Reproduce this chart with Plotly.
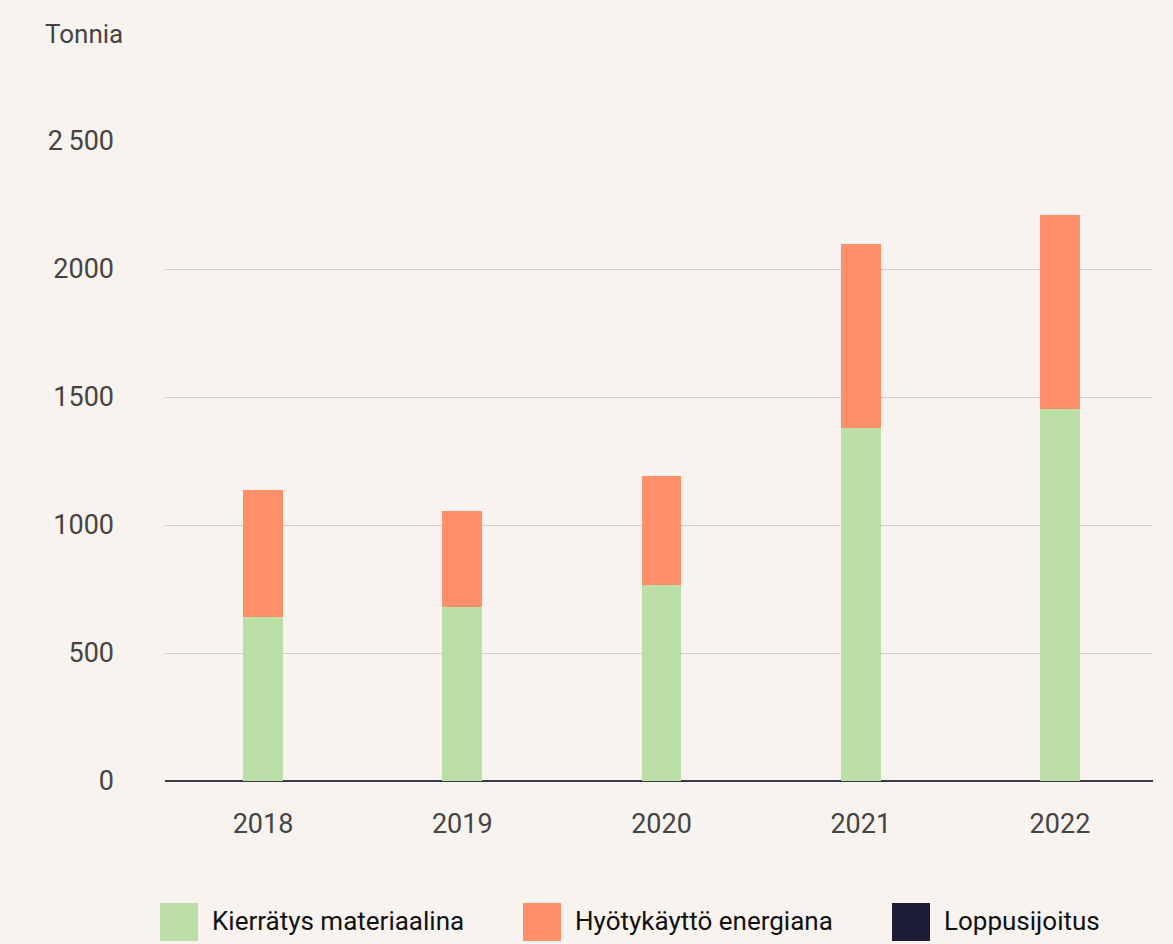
import plotly.graph_objects as go

years = ["2018", "2019", "2020", "2021", "2022"]
kierratys = [640, 680, 766, 1380, 1453]
hyotykaytto = [497, 375, 426, 719, 758]
loppusijoitus = [0, 0, 0, 0, 0]
series_names = ["Kierrätys materiaalina", "Hyötykäyttö energiana", "Loppusijoitus"]
series_colors = ["#BBDFA6", "#FF8F69", "#1C1D35"]
y_tickvals = [0, 500, 1000, 1500, 2000, 2500]
y_ticktext = ["0", "500", "1000", "1500", "2000", "2\u2009500"]

FONT = "Roboto, sans-serif"
BG = "#F8F3EF"

fig = go.Figure()
for name, vals, col in zip(series_names, [kierratys, hyotykaytto, loppusijoitus], series_colors):
    fig.add_trace(go.Bar(x=years, y=vals, name=name, marker=dict(color=col, line=dict(width=0)),
                         width=0.2, showlegend=False))

fig.update_layout(
    barmode="stack",
    width=1173, height=944,
    paper_bgcolor=BG, plot_bgcolor=BG,
    margin=dict(l=165, r=20, t=141, b=163),
    font=dict(family=FONT, color="#444444", size=27),
    xaxis=dict(showgrid=False, ticks="", ticklabelstandoff=24, showline=False,
               range=[-0.492, 4.467],
               tickfont=dict(size=27, color="#444444")),
    yaxis=dict(range=[0, 2500], tickvals=y_tickvals, ticktext=y_ticktext,
               showgrid=True, gridcolor="#D2CFCC", gridwidth=1,
               zeroline=True, zerolinecolor="#3A3A48", zerolinewidth=1.5,
               ticks="", ticklabelstandoff=50, tickfont=dict(size=27, color="#444444")),
    bargap=0.8,
)

fig.add_annotation(text="Tonnia", xref="paper", yref="paper", x=-(165-43)/988, y=1 + (141-34)/640,
                   xanchor="left", yanchor="middle", showarrow=False,
                   font=dict(size=26, color="#444444", family=FONT))

legend_x = [160, 523, 892]
for name, col, lx in zip(series_names, series_colors, legend_x):
    fig.add_shape(type="rect", xref="paper", yref="paper",
                  x0=(lx - 165) / 988, x1=(lx + 38 - 165) / 988,
                  y0=-(903 - 781) / 640, y1=-(941 - 781) / 640,
                  fillcolor=col, line=dict(width=0))
    fig.add_annotation(text=name, xref="paper", yref="paper",
                       x=(lx + 50 - 165) / 988, y=-(921 - 781) / 640,
                       xanchor="left", yanchor="middle", showarrow=False,
                       font=dict(size=26, color="#111111", family=FONT))

fig.write_html("out.html", config={"displayModeBar": False},
               post_script="document.body.style.margin='0';document.body.style.background='#F8F3EF';")
